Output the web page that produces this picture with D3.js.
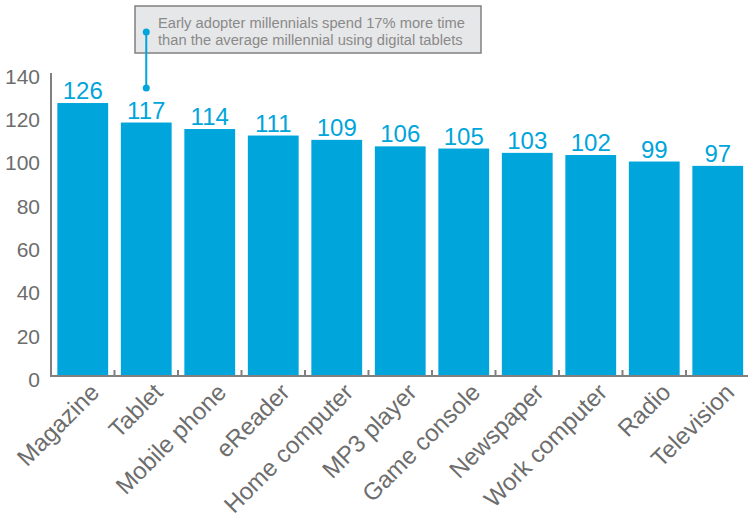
<!DOCTYPE html>
<html>
<head>
<meta charset="utf-8">
<script src="https://cdn.jsdelivr.net/npm/d3@7/dist/d3.min.js"></script>
<style>
  html, body { margin: 0; padding: 0; background: #fff; }
  svg { display: block; font-family: "Liberation Sans", Arial, sans-serif; }
</style>
</head>
<body>
<svg id="chart" width="748" height="519"></svg>
<script>
// Media usage index by device (average millennial = 100)
const categories = ["Magazine", "Tablet", "Mobile phone", "eReader", "Home computer",
  "MP3 player", "Game console", "Newspaper", "Work computer", "Radio", "Television"];
const values = [126, 117, 114, 111, 109, 106, 105, 103, 102, 99, 97];
const yTicks = [0, 20, 40, 60, 80, 100, 120, 140];
const noteLines = ["Early adopter millennials spend 17% more time",
  "than the average millennial using digital tablets"];
const noteCategory = "Tablet";

const blue = "#00a5db";
const axisGray = "#808080";
const textGray = "#6d6d6d";

const svg = d3.select("#chart");

const x = d3.scaleBand()
  .domain(categories)
  .range([51, 749.5])
  .paddingInner(0.2)
  .paddingOuter(0.1);

const y = d3.scaleLinear()
  .domain([0, 140])
  .range([376, 72.7]);

// Bars
svg.append("g").selectAll("rect")
  .data(categories)
  .join("rect")
  .attr("x", d => x(d))
  .attr("y", (d, i) => y(values[i]))
  .attr("width", x.bandwidth())
  .attr("height", (d, i) => y(0) - y(values[i]))
  .attr("fill", blue);

// Value labels
svg.append("g").selectAll("text")
  .data(categories)
  .join("text")
  .attr("x", d => x(d) + x.bandwidth() / 2)
  .attr("y", (d, i) => y(values[i]) - 4)
  .attr("text-anchor", "middle")
  .attr("fill", blue)
  .style("font-size", "24px")
  .text((d, i) => values[i]);

// Y axis: line plus labels, no tick marks
const yAxis = svg.append("g")
  .attr("transform", `translate(51,0)`)
  .call(d3.axisLeft(y).tickValues(yTicks).tickSize(0).tickPadding(11));
yAxis.select(".domain").attr("stroke", axisGray).attr("stroke-width", 2)
  .attr("d", `M0,${y(0)}V73`);
yAxis.selectAll("text")
  .attr("fill", textGray)
  .attr("y", 3)
  .style("font-size", "21px")
  .style("font-family", "'Liberation Sans Narrow', 'Liberation Sans', Arial, sans-serif")
  .attr("dy", "0.36em");

// X axis baseline with small separators between bands
const xAxis = svg.append("g");
xAxis.append("line")
  .attr("x1", 50).attr("x2", 748)
  .attr("y1", y(0)).attr("y2", y(0))
  .attr("stroke", axisGray).attr("stroke-width", 2);
xAxis.selectAll("line.sep")
  .data(categories.slice(1))
  .join("line")
  .attr("class", "sep")
  .attr("x1", d => x(d) - x.step() * x.paddingInner() / 2)
  .attr("x2", d => x(d) - x.step() * x.paddingInner() / 2)
  .attr("y1", y(0)).attr("y2", y(0) - 6)
  .attr("stroke", axisGray).attr("stroke-width", 2);

// Rotated category labels
xAxis.selectAll("text")
  .data(categories)
  .join("text")
  .attr("transform", d => `translate(${x(d) + x.bandwidth() / 2 + 6},${y(0) + 6}) rotate(-45)`)
  .attr("text-anchor", "end")
  .attr("dy", "0.7em")
  .attr("fill", textGray)
  .style("font-size", "24px")
  .text(d => d);

// Callout note
const note = svg.append("g");
note.append("rect")
  .attr("x", 135).attr("y", 6)
  .attr("width", 346).attr("height", 47)
  .attr("fill", "#e6e7e8")
  .attr("stroke", axisGray)
  .attr("stroke-width", 1.5);
note.selectAll("text")
  .data(noteLines)
  .join("text")
  .attr("x", 158)
  .attr("y", (d, i) => 27.5 + i * 17.5)
  .attr("fill", "#8a8a8a")
  .style("font-size", "14.7px")
  .text(d => d);

const cx = x(noteCategory) + x.bandwidth() / 2;
note.append("line")
  .attr("x1", cx).attr("x2", cx)
  .attr("y1", 32).attr("y2", 88)
  .attr("stroke", blue).attr("stroke-width", 2);
note.selectAll("circle")
  .data([32, 88])
  .join("circle")
  .attr("cx", cx).attr("cy", d => d)
  .attr("r", 3.5)
  .attr("fill", blue);
</script>
</body>
</html>
